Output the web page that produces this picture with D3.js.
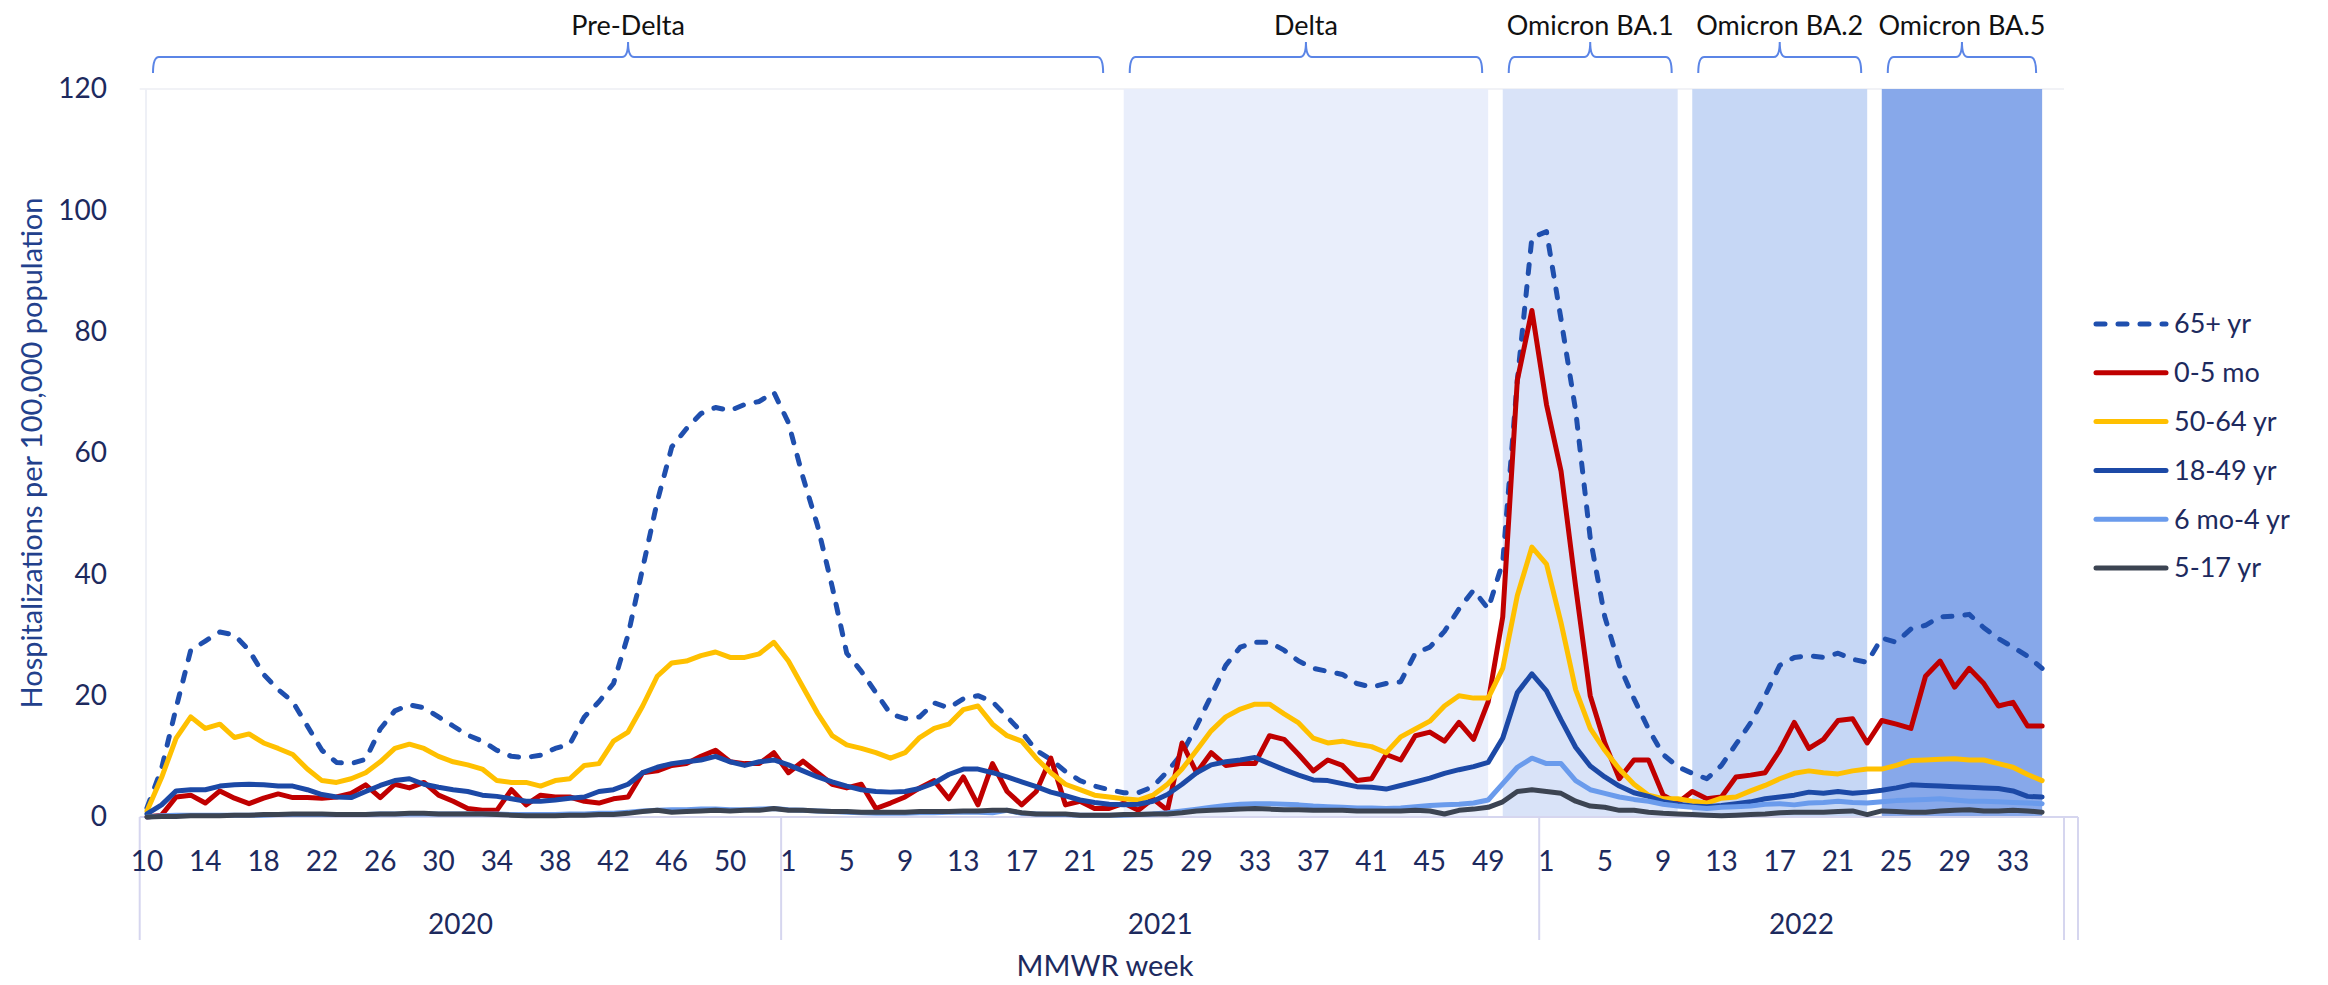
<!DOCTYPE html>
<html>
<head>
<meta charset="utf-8">
<script src="https://cdn.jsdelivr.net/npm/d3@7"></script>
<style>
  html, body { margin: 0; padding: 0; background: #ffffff; }
  svg { display: block; font-family: Lato, "Open Sans", "Noto Sans", sans-serif; }
</style>
</head>
<body>
<svg id="chart" width="2328" height="985"></svg>
<script>
// ---- Categories: MMWR weeks, grouped by year ----
const weeks2020 = [10,11,12,13,14,15,16,17,18,19,20,21,22,23,24,25,26,27,28,29,30,31,32,33,34,35,36,37,38,39,40,41,42,43,44,45,46,47,48,49,50,51,52,53];
const weeks2021 = [1,2,3,4,5,6,7,8,9,10,11,12,13,14,15,16,17,18,19,20,21,22,23,24,25,26,27,28,29,30,31,32,33,34,35,36,37,38,39,40,41,42,43,44,45,46,47,48,49,50,51,52];
const weeks2022 = [1,2,3,4,5,6,7,8,9,10,11,12,13,14,15,16,17,18,19,20,21,22,23,24,25,26,27,28,29,30,31,32,33,34,35,36];
const years = ["2020", "2021", "2022"];

// Week labels shown on the axis
const xTickLabels = [
  "2020-10","2020-14","2020-18","2020-22","2020-26","2020-30","2020-34","2020-38","2020-42","2020-46","2020-50",
  "2021-1","2021-5","2021-9","2021-13","2021-17","2021-21","2021-25","2021-29","2021-33","2021-37","2021-41","2021-45","2021-49",
  "2022-1","2022-5","2022-9","2022-13","2022-17","2022-21","2022-25","2022-29","2022-33"
];
const yTicks = [0, 20, 40, 60, 80, 100, 120];

// ---- Weekly hospitalization rates per 100,000 (2020 wk10 .. 2022 wk35) ----
const rate65plus = [
  1.5, 8, 18, 27.5, 29, 30.5, 30, 27.5, 23.5, 21, 19, 15, 11, 9, 8.8, 9.5, 14.5, 17.5, 18.5, 18, 16.5, 15, 13.5, 12.5, 11, 10, 9.8, 10.2, 11.3, 12, 16.5, 19, 22, 30, 41, 52, 61, 64, 66.5, 67.5, 67, 68, 68.5, 70,
  65, 56, 48, 38, 27, 24, 20.5, 17, 16.2, 16.5, 18.8, 18, 19.5, 20, 19, 16.5, 14, 11, 9.5, 7.5, 6, 5.1, 4.5, 4, 4, 5, 7.5, 10.5, 15, 20, 25, 28, 28.8, 28.8, 27.5, 25.7, 24.5, 24, 23.5, 22, 21.4, 22, 22.3, 27, 28, 30.6, 34.3, 37.4, 34.3, 42, 72, 95.5,
  96.5, 82, 67, 46, 33, 25, 19.5, 14.5, 10.3, 8.3, 7.2, 6.3, 8.5, 12, 15.5, 20, 25, 26.3, 26.6, 26.3, 27, 26, 25.5, 29.5, 28.8, 31, 31.6, 33, 33.1, 33.4, 31.2, 29.4, 28, 26.5, 24.5
];
const rate0to5mo = [
  0, 0.3, 3.3, 3.6, 2.3, 4.3, 3.1, 2.2, 3.1, 3.8, 3.2, 3.2, 3.1, 3.3, 3.9, 5.3, 3.2, 5.4, 4.8, 5.7, 3.6, 2.6, 1.4, 1.1, 1.1, 4.5, 2, 3.6, 3.3, 3.3, 2.6, 2.3, 3, 3.3, 7.3, 7.6, 8.5, 8.8, 10, 11, 9.1, 8.8, 8.8, 10.6,
  7.3, 9.2, 7.3, 5.4, 4.8, 5.4, 1.4, 2.3, 3.3, 4.8, 6, 3, 6.6, 2, 8.8, 4.2, 2, 4.2, 9.7, 2, 2.6, 1.4, 1.4, 2.3, 1.1, 3, 1.1, 12.2, 7.3, 10.6, 8.5, 8.8, 8.8, 13.4, 12.8, 10.3, 7.6, 9.4, 8.5, 6, 6.3, 10.3, 9.4, 13.4, 14, 12.5, 15.6, 12.8, 19, 33, 72, 83.5,
  68, 57, 38, 20, 12.2, 6.3, 9.4, 9.4, 3.6, 2.3, 4.2, 3, 3.3, 6.6, 6.9, 7.3, 11, 15.6, 11.3, 12.8, 15.9, 16.2, 12.2, 15.9, 15.3, 14.6, 23.2, 25.7, 21.4, 24.5, 22, 18.3, 18.9, 15, 15
];
const rate50to64 = [
  1, 6.5, 13, 16.5, 14.6, 15.3, 13.1, 13.7, 12.2, 11.3, 10.3, 7.9, 6, 5.7, 6.3, 7.3, 9.1, 11.3, 12, 11.3, 10, 9.1, 8.6, 7.9, 6, 5.7, 5.7, 5.1, 6, 6.3, 8.5, 8.8, 12.5, 14, 18.3, 23.2, 25.4, 25.7, 26.6, 27.2, 26.3, 26.3, 26.9, 28.8,
  25.7, 21.4, 17.1, 13.4, 11.9, 11.3, 10.6, 9.7, 10.6, 13.1, 14.6, 15.3, 17.7, 18.3, 15.3, 13.4, 12.5, 9.7, 7.3, 5.4, 4.5, 3.6, 3.3, 3, 2.8, 3.6, 5.4, 7.9, 11, 14.2, 16.5, 17.8, 18.6, 18.6, 17, 15.5, 13, 12.2, 12.5, 12, 11.6, 10.6, 13.2, 14.5, 15.8, 18.3, 20, 19.6, 19.6, 24.5, 36.5, 44.5,
  41.7, 32, 21, 14.6, 11, 7.9, 5.4, 3.6, 3, 3, 2.6, 2.3, 3.1, 3.3, 4.3, 5.2, 6.3, 7.2, 7.6, 7.3, 7.1, 7.6, 7.9, 7.9, 8.5, 9.3, 9.4, 9.5, 9.6, 9.4, 9.4, 8.8, 8.2, 7, 6
];
const rate18to49 = [
  0.5, 2, 4.3, 4.5, 4.5, 5.1, 5.3, 5.4, 5.3, 5.1, 5.1, 4.5, 3.7, 3.3, 3.2, 4.2, 5.2, 6, 6.3, 5.4, 4.9, 4.5, 4.2, 3.6, 3.4, 3, 2.6, 2.6, 2.8, 3.1, 3.3, 4.2, 4.5, 5.4, 7.3, 8.2, 8.8, 9.1, 9.4, 10, 9.1, 8.5, 9.1, 9.4,
  8.6, 7.6, 6.6, 5.8, 5.1, 4.5, 4.2, 4.1, 4.2, 4.7, 5.6, 7, 7.9, 7.9, 7.3, 6.6, 5.8, 5, 4.1, 3.5, 2.8, 2.4, 2.1, 2, 2.1, 2.6, 3.7, 5.4, 7.3, 8.6, 9.1, 9.4, 9.8, 8.8, 7.8, 6.9, 6.1, 6, 5.5, 5, 4.9, 4.6, 5.2, 5.8, 6.4, 7.2, 7.8, 8.3, 9, 13, 20.5, 23.6,
  20.8, 16, 11.5, 8.4, 6.6, 5.1, 4, 3.4, 2.5, 2.1, 1.8, 1.7, 1.9, 2.2, 2.5, 3, 3.3, 3.6, 4.1, 3.9, 4.2, 3.9, 4.1, 4.4, 4.8, 5.3, 5.2, 5.1, 5, 4.9, 4.8, 4.7, 4.3, 3.4, 3.3
];
const rate6moTo4 = [
  0, 0.2, 0.3, 0.3, 0.3, 0.3, 0.3, 0.3, 0.3, 0.4, 0.4, 0.4, 0.4, 0.4, 0.4, 0.4, 0.5, 0.5, 0.5, 0.5, 0.5, 0.5, 0.5, 0.5, 0.5, 0.4, 0.4, 0.4, 0.4, 0.5, 0.5, 0.6, 0.6, 0.8, 1, 1.1, 1.2, 1.2, 1.3, 1.3, 1.2, 1.2, 1.3, 1.4,
  1.2, 1.1, 1, 0.9, 0.8, 0.7, 0.6, 0.6, 0.6, 0.7, 0.7, 0.8, 0.8, 0.8, 0.7, 1.1, 0.6, 0.5, 0.4, 0.4, 0.3, 0.3, 0.3, 0.3, 0.4, 0.5, 0.7, 1, 1.3, 1.6, 1.9, 2.1, 2.2, 2.2, 2.1, 2, 1.8, 1.7, 1.6, 1.5, 1.5, 1.4, 1.5, 1.7, 1.9, 2, 2.1, 2.3, 2.8, 5.5, 8.2, 9.7,
  8.8, 8.8, 6, 4.5, 3.9, 3.3, 2.9, 2.6, 2.1, 1.8, 1.6, 1.4, 1.6, 1.7, 1.8, 2.1, 2.2, 2, 2.3, 2.4, 2.6, 2.4, 2.3, 2.5, 2.7, 2.8, 2.9, 3, 2.8, 2.6, 2.6, 2.5, 2.4, 2.3, 2.2
];
const rate5to17 = [
  0, 0.1, 0.1, 0.2, 0.2, 0.2, 0.3, 0.3, 0.4, 0.4, 0.5, 0.5, 0.5, 0.4, 0.4, 0.4, 0.5, 0.5, 0.6, 0.6, 0.5, 0.5, 0.5, 0.5, 0.4, 0.3, 0.2, 0.2, 0.2, 0.3, 0.3, 0.4, 0.4, 0.6, 0.9, 1.1, 0.8, 0.9, 1, 1.1, 1, 1.1, 1.1, 1.4,
  1.1, 1.1, 1, 0.9, 0.9, 0.8, 0.8, 0.8, 0.8, 0.9, 0.9, 0.9, 1, 1, 1.1, 1.1, 0.7, 0.5, 0.5, 0.5, 0.3, 0.3, 0.3, 0.4, 0.4, 0.5, 0.5, 0.7, 1, 1.1, 1.2, 1.3, 1.4, 1.3, 1.2, 1.2, 1.1, 1.1, 1.1, 1, 1, 1, 1, 1.1, 1, 0.5, 1.1, 1.3, 1.6, 2.5, 4.2, 4.5,
  4.2, 3.9, 2.6, 1.8, 1.6, 1.1, 1.1, 0.8, 0.6, 0.5, 0.4, 0.3, 0.2, 0.3, 0.4, 0.5, 0.7, 0.8, 0.8, 0.8, 0.9, 1, 0.4, 1, 0.9, 0.8, 0.8, 1, 1.1, 1.2, 1, 1, 1.1, 1, 0.8
];

// Series in legend order (later ones are drawn on top)
const seriesNames  = ["65+ yr", "0-5 mo", "50-64 yr", "18-49 yr", "6 mo-4 yr", "5-17 yr"];
const seriesValues = [rate65plus, rate0to5mo, rate50to64, rate18to49, rate6moTo4, rate5to17];
const seriesColors = ["#1f4fae", "#c00000", "#ffc000", "#1c49a6", "#6a9bec", "#3c4452"];
const seriesDashed = [true, false, false, false, false, false];

// Variant periods: label, first week, last week, fill (null = unshaded)
const periodNames  = ["Pre-Delta", "Delta", "Omicron BA.1", "Omicron BA.2", "Omicron BA.5"];
const periodStarts = ["2020-10", "2021-24", "2021-50", "2022-11", "2022-24"];
const periodEnds   = ["2021-23", "2021-49", "2022-10", "2022-23", "2022-35"];
const periodFills  = [null, "#e9eefb", "#d9e3f8", "#c6d7f5", "#87a8ea"];

// ---- Build category keys ----
const weeksByYear = { "2020": weeks2020, "2021": weeks2021, "2022": weeks2022 };
const categories = [];
years.forEach(yr => weeksByYear[yr].forEach(w => categories.push(yr + "-" + w)));

// ---- Layout ----
const svg = d3.select("#chart");
const plotLeft = 139.7, plotRight = 2064, plotTop = 89, plotBottom = 817;
const navy = "#1d2a5e";

const x = d3.scaleBand().domain(categories).range([plotLeft, plotRight]).paddingInner(0).paddingOuter(0);
const cx = k => x(k) + x.bandwidth() / 2;
const y = d3.scaleLinear().domain([0, 120]).range([plotBottom, plotTop]);

svg.append("rect").attr("width", 2328).attr("height", 985).attr("fill", "#ffffff");

// faint plot border lines
svg.append("line").attr("x1", plotLeft).attr("x2", plotRight).attr("y1", y(120)).attr("y2", y(120))
  .attr("stroke", "#f1f2f6").attr("stroke-width", 2);
svg.append("line").attr("x1", 146).attr("x2", 146).attr("y1", y(120)).attr("y2", y(0))
  .attr("stroke", "#eef0f6").attr("stroke-width", 2);

// ---- Shaded variant periods ----
periodNames.forEach((name, i) => {
  if (!periodFills[i]) return;
  const x0 = cx(periodStarts[i]), x1 = cx(periodEnds[i]);
  svg.append("rect")
    .attr("x", x0).attr("y", y(120))
    .attr("width", x1 - x0).attr("height", y(0) - y(120))
    .attr("fill", periodFills[i]);
});

// ---- Period braces and labels ----
const braceY = 57, braceDrop = 16, braceTip = 15, inset = 6;
periodNames.forEach((name, i) => {
  const x0 = cx(periodStarts[i]) + inset, x1 = cx(periodEnds[i]) - inset;
  const m = (x0 + x1) / 2;
  const p = d3.path();
  p.moveTo(x0, braceY + braceDrop);
  p.quadraticCurveTo(x0, braceY, x0 + 6, braceY);
  p.lineTo(m - 6, braceY);
  p.quadraticCurveTo(m, braceY, m, braceY - braceTip);
  p.quadraticCurveTo(m, braceY, m + 6, braceY);
  p.lineTo(x1 - 6, braceY);
  p.quadraticCurveTo(x1, braceY, x1, braceY + braceDrop);
  svg.append("path").attr("d", p.toString())
    .attr("fill", "none").attr("stroke", "#5b85e6").attr("stroke-width", 2);
  svg.append("text")
    .attr("x", m).attr("y", 35)
    .attr("text-anchor", "middle")
    .attr("font-size", 27).attr("fill", "#111111")
    .text(name);
});

// ---- Category axis frame ----
const frameColor = "#d6d6ef";
svg.append("line").attr("x1", plotLeft).attr("x2", 2078).attr("y1", plotBottom).attr("y2", plotBottom)
  .attr("stroke", frameColor).attr("stroke-width", 2);
const yearEdges = [plotLeft];
years.forEach(yr => {
  const ws = weeksByYear[yr];
  yearEdges.push(x(yr + "-" + ws[ws.length - 1]) + x.bandwidth());
});
yearEdges.concat([2078]).forEach(xe => {
  svg.append("line").attr("x1", xe).attr("x2", xe).attr("y1", plotBottom).attr("y2", 940)
    .attr("stroke", frameColor).attr("stroke-width", 2);
});

// Week tick labels
const xAxis = d3.axisBottom(x)
  .tickValues(xTickLabels)
  .tickFormat(k => k.split("-")[1])
  .tickSize(0).tickPadding(34);
const gx = svg.append("g").attr("transform", `translate(0,${plotBottom})`).call(xAxis);
gx.select(".domain").remove();
gx.selectAll("text").attr("font-size", 28).attr("font-family", "Lato, 'Open Sans', sans-serif").attr("fill", navy);

// Year labels
years.forEach(yr => {
  const ws = weeksByYear[yr];
  const a = x(yr + "-" + ws[0]);
  const b = x(yr + "-" + ws[ws.length - 1]) + x.bandwidth();
  svg.append("text").attr("x", (a + b) / 2).attr("y", 934)
    .attr("text-anchor", "middle").attr("font-size", 28).attr("fill", navy).text(yr);
});

// Axis titles
svg.append("text").attr("x", 1105).attr("y", 976)
  .attr("text-anchor", "middle").attr("font-size", 29).attr("fill", navy).text("MMWR week");
svg.append("text")
  .attr("transform", `translate(42,${(plotTop + plotBottom) / 2}) rotate(-90)`)
  .attr("text-anchor", "middle").attr("font-size", 29).attr("fill", "#22408c")
  .text("Hospitalizations per 100,000 population");

// ---- Value axis ----
const yAxis = d3.axisLeft(y).tickValues(yTicks).tickSize(0).tickPadding(32.7);
const gy = svg.append("g").attr("transform", `translate(${plotLeft},0)`).call(yAxis);
gy.select(".domain").remove();
gy.selectAll("text").attr("font-size", 28).attr("font-family", "Lato, 'Open Sans', sans-serif").attr("fill", navy);

// ---- Series lines ----
const line = d3.line()
  .defined(d => d.v != null)
  .x(d => cx(d.k))
  .y(d => y(d.v));

seriesNames.forEach((name, i) => {
  const pts = seriesValues[i].map((v, j) => ({ k: categories[j], v: v }));
  svg.append("path")
    .datum(pts)
    .attr("d", line)
    .attr("fill", "none")
    .attr("stroke", seriesColors[i])
    .attr("stroke-width", 5)
    .attr("stroke-linejoin", "round")
    .attr("stroke-linecap", "round")
    .attr("stroke-dasharray", seriesDashed[i] ? "9,13" : null);
});

// ---- Legend ----
const legendY0 = 324, legendStep = 48.8;
seriesNames.forEach((name, i) => {
  const ly = legendY0 + i * legendStep;
  svg.append("line")
    .attr("x1", 2096).attr("x2", 2166).attr("y1", ly).attr("y2", ly)
    .attr("stroke", seriesColors[i]).attr("stroke-width", 5)
    .attr("stroke-linecap", "round")
    .attr("stroke-dasharray", seriesDashed[i] ? "9,13" : null);
  svg.append("text")
    .attr("x", 2174).attr("y", ly).attr("dy", "0.35em")
    .attr("font-size", 27).attr("fill", navy).text(name);
});
</script>
</body>
</html>
